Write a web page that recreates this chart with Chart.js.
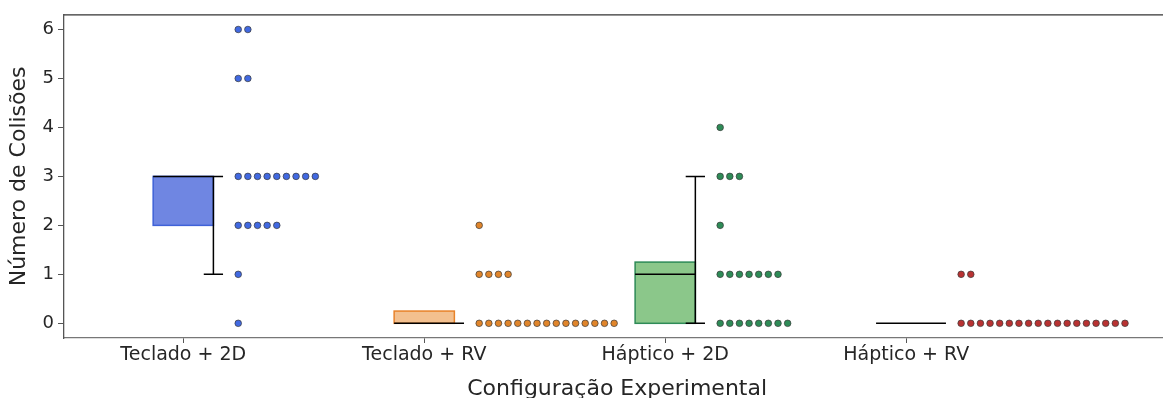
<!DOCTYPE html>
<html>
<head>
<meta charset="utf-8">
<script src="https://cdn.jsdelivr.net/npm/chart.js@4/dist/chart.umd.min.js"></script>
<style>
  html, body { margin: 0; padding: 0; background: #fff; overflow: hidden; }
  #wrap { width: 1163px; height: 398px; overflow: hidden; }
  canvas { display: block; }
</style>
</head>
<body>
<!-- canvas a bit wider than the window: the axes run off the right edge like the original -->
<div id="wrap"><canvas id="chart" width="1175" height="398"></canvas></div>
<script>
// Data
const categories = ['Teclado + 2D', 'Teclado + RV', 'Háptico + 2D', 'Háptico + RV'];
const teclado2D = [6, 6, 5, 5, 3, 3, 3, 3, 3, 3, 3, 3, 3, 2, 2, 2, 2, 2, 1, 0];
const tecladoRV = [2, 1, 1, 1, 1, 0, 0, 0, 0, 0, 0, 0, 0, 0, 0, 0, 0, 0, 0, 0];
const haptico2D = [4, 3, 3, 3, 2, 1, 1, 1, 1, 1, 1, 1, 0, 0, 0, 0, 0, 0, 0, 0];
const hapticoRV = [1, 1, 0, 0, 0, 0, 0, 0, 0, 0, 0, 0, 0, 0, 0, 0, 0, 0, 0, 0];
const yTicks = [0, 1, 2, 3, 4, 5, 6];

const groups = [teclado2D, tecladoRV, haptico2D, hapticoRV];
const pointColors = ['#4169e1', '#e0852b', '#2e8b57', '#b83232'];
const boxFills = ['#6f86e2', '#f3c08f', '#8bc78a', '#c05050'];
const boxEdges = ['#3f62d8', '#e8822a', '#2e8b57', '#b83232'];

// quantile with linear interpolation (same as numpy default)
function quantile(sorted, q) {
    const pos = (sorted.length - 1) * q;
    const lo = Math.floor(pos);
    const hi = Math.ceil(pos);
    return sorted[lo] + (sorted[hi] - sorted[lo]) * (pos - lo);
}

function boxStats(values) {
    const s = values.slice().sort((a, b) => a - b);
    const q1 = quantile(s, 0.25);
    const med = quantile(s, 0.5);
    const q3 = quantile(s, 0.75);
    const iqr = q3 - q1;
    const lo = Math.min(...s.filter(v => v >= q1 - 1.5 * iqr));
    const hi = Math.max(...s.filter(v => v <= q3 + 1.5 * iqr));
    return { q1, med, q3, lo, hi };
}

const stats = groups.map(boxStats);

// strip points: each value level laid out in a row to the right of the box
const STRIP_START = 0.228;
const STRIP_STEP = 0.04;
function stripPoints(values, idx) {
    const counts = {};
    return values.map(v => {
        counts[v] = (counts[v] || 0);
        const p = { x: idx + STRIP_START + counts[v] * STRIP_STEP, y: v };
        counts[v]++;
        return p;
    });
}

const datasets = groups.map((vals, i) => ({
    label: categories[i],
    data: stripPoints(vals, i),
    pointRadius: 3.3,
    pointBackgroundColor: pointColors[i],
    pointBorderColor: '#3a3a3a',
    pointBorderWidth: 0.7,
    showLine: false
}));

// Half boxplots drawn with the chart scales
const boxPlugin = {
    id: 'halfBox',
    beforeDatasetsDraw(chart) {
        const { ctx, scales: { x, y } } = chart;
        const half = 0.125;
        ctx.save();
        stats.forEach((st, i) => {
            const left = x.getPixelForValue(i - half);
            const right = x.getPixelForValue(i + half);
            const top = y.getPixelForValue(st.q3);
            const bottom = y.getPixelForValue(st.q1);
            // box
            if (st.q3 > st.q1) {
                ctx.fillStyle = boxFills[i];
                ctx.strokeStyle = boxEdges[i];
                ctx.lineWidth = 1.5;
                ctx.fillRect(left, top, right - left, bottom - top);
                ctx.strokeRect(left, top, right - left, bottom - top);
            }
            // whisker
            ctx.strokeStyle = '#000';
            ctx.lineWidth = 1.5;
            const wx = right;
            const capL = x.getPixelForValue(i + half - 0.04);
            const capR = x.getPixelForValue(i + half + 0.04);
            const yLo = y.getPixelForValue(st.lo);
            const yHi = y.getPixelForValue(st.hi);
            ctx.beginPath();
            ctx.moveTo(wx, yLo);
            ctx.lineTo(wx, yHi);
            ctx.moveTo(capL, yLo);
            ctx.lineTo(capR, yLo);
            ctx.moveTo(capL, yHi);
            ctx.lineTo(capR, yHi);
            // median
            const ym = y.getPixelForValue(st.med);
            ctx.moveTo(left, ym);
            ctx.lineTo(right, ym);
            ctx.stroke();
        });
        // top spine
        const area = chart.chartArea;
        ctx.strokeStyle = '#333';
        ctx.lineWidth = 1.3;
        ctx.beginPath();
        ctx.moveTo(area.left, area.top);
        ctx.lineTo(area.right, area.top);
        ctx.stroke();
        ctx.restore();
    }
};

const ctx = document.getElementById('chart').getContext('2d');
new Chart(ctx, {
    type: 'scatter',
    data: { datasets: datasets },
    plugins: [boxPlugin],
    options: {
        responsive: false,
        animation: false,
        layout: { padding: { top: 13, left: 0, right: 0, bottom: 0 } },
        plugins: {
            legend: { display: false },
            tooltip: { enabled: false }
        },
        scales: {
            x: {
                type: 'linear',
                min: -0.495,
                max: 4.096,
                afterBuildTicks: scale => {
                    scale.ticks = categories.map((c, i) => ({ value: i }));
                },
                afterFit: scale => {
                    scale.height = 60;
                    scale.paddingLeft = 0;
                    scale.paddingRight = 0;
                },
                ticks: {
                    callback: v => categories[v],
                    color: '#262626',
                    font: { family: 'DejaVu Sans', size: 19 },
                    padding: 1,
                    maxRotation: 0,
                    autoSkip: false
                },
                grid: { drawOnChartArea: false, tickLength: 5, color: '#555', lineWidth: 1 },
                border: { color: '#777', width: 1.3 },
                title: {
                    display: true,
                    text: 'Configuração Experimental',
                    color: '#262626',
                    font: { family: 'DejaVu Sans', size: 22, lineHeight: 0.8 },
                    padding: 0
                }
            },
            y: {
                min: -0.3,
                max: 6.3,
                afterBuildTicks: scale => {
                    scale.ticks = yTicks.map(v => ({ value: v }));
                },
                afterFit: scale => { scale.width = 64; },
                ticks: {
                    color: '#262626',
                    font: { family: 'DejaVu Sans', size: 18 },
                    padding: 4
                },
                grid: { drawOnChartArea: false, tickLength: 6, color: '#555', lineWidth: 1 },
                border: { color: '#555', width: 1.3 },
                title: {
                    display: true,
                    text: 'Número de Colisões',
                    color: '#262626',
                    font: { family: 'DejaVu Sans', size: 22 },
                    padding: { top: 6, bottom: 0 }
                }
            }
        }
    }
});
</script>
</body>
</html>
